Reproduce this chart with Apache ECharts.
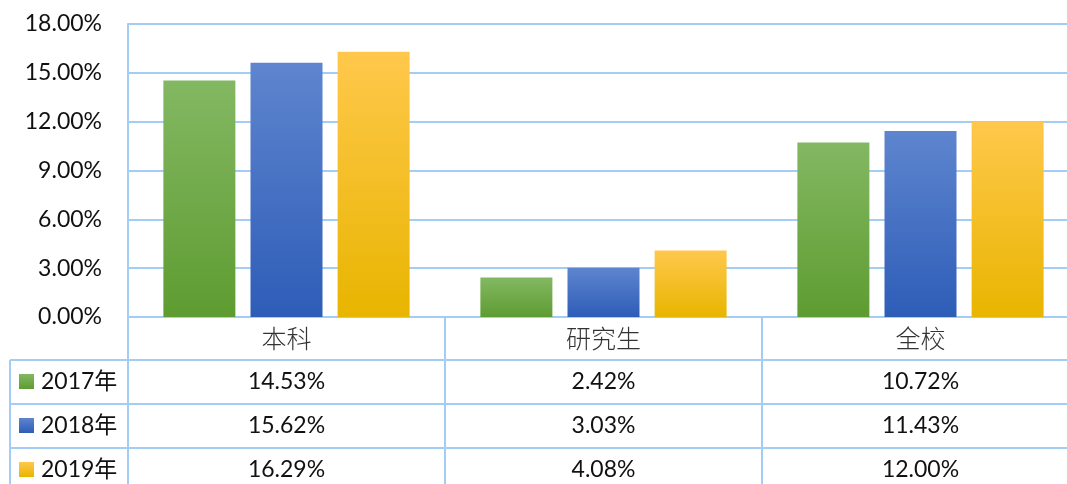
<!DOCTYPE html>
<html>
<head>
<meta charset="utf-8">
<script src="https://cdn.jsdelivr.net/npm/echarts@6/dist/echarts.min.js"></script>
<style>
  html, body { margin: 0; padding: 0; background: #fff; }
  #main { width: 1067px; height: 484px; }
</style>
</head>
<body>
<div id="main"></div>
<script>
const categories = ["本科", "研究生", "全校"];
const years = ["2017年", "2018年", "2019年"];
const rate2017 = [14.53, 2.42, 10.72];
const rate2018 = [15.62, 3.03, 11.43];
const rate2019 = [16.29, 4.08, 12.0];
const yMin = 0;
const yMax = 18;
const yStep = 3;

const lineColor = "#a3cdf4";
const numFont = "Lato";
const cjkFont = "Noto Sans CJK SC";

const grad = (top, bottom) =>
  new echarts.graphic.LinearGradient(0, 0, 0, 1, [
    { offset: 0, color: top },
    { offset: 1, color: bottom },
  ]);

const colors = [
  grad("#83b862", "#5e9c31"),
  grad("#5e85ce", "#2e5db8"),
  grad("#ffc84c", "#e8b500"),
];
const seriesData = [rate2017, rate2018, rate2019];

var chartDom = document.getElementById("main");
var myChart = echarts.init(chartDom);
var option;

option = {
  animation: false,
  grid: {
    left: 128,
    top: 24,
    width: 951,
    height: 293,
    outerBoundsMode: "none",
    containLabel: false,
  },
  xAxis: {
    type: "category",
    data: categories,
    axisTick: { show: false },
    axisLine: { lineStyle: { color: lineColor, width: 2 } },
    axisLabel: {
      margin: 9,
      fontSize: 25,
      color: "#333",
      fontFamily: cjkFont,
      fontWeight: 300,
    },
  },
  yAxis: {
    type: "value",
    min: yMin,
    max: yMax,
    interval: yStep,
    axisLine: { show: true, lineStyle: { color: lineColor, width: 2 } },
    splitLine: { lineStyle: { color: lineColor, width: 2 } },
    axisLabel: {
      margin: 26,
      fontSize: 23,
      color: "#111",
      fontFamily: numFont,
      formatter: (v) => v.toFixed(2) + "%",
    },
  },
  series: seriesData.map((data, i) => ({
    name: years[i],
    type: "bar",
    data: data,
    barWidth: 72,
    barGap: "21%",
    itemStyle: {
      color: colors[i],
      shadowBlur: 6,
      shadowColor: "rgba(0,0,0,0.35)",
      shadowOffsetX: 2,
      shadowOffsetY: 2,
    },
  })),
};

option && myChart.setOption(option);

// data table under the plot, placed from the axis scales
const c0 = myChart.convertToPixel({ xAxisIndex: 0 }, categories[0]);
const c1 = myChart.convertToPixel({ xAxisIndex: 0 }, categories[1]);
const band = c1 - c0;
const yZero = myChart.convertToPixel({ yAxisIndex: 0 }, yMin);
const W = 1067, H = 484;
const tableLeft = 10;
const labelRowH = 43;
const rowH = 44;

const graphics = [];
const line = (x1, y1, x2, y2) =>
  graphics.push({
    type: "line",
    shape: { x1, y1, x2, y2 },
    style: { stroke: lineColor, lineWidth: 2 },
    z: 10,
  });

// vertical column borders
for (let i = 0; i < categories.length; i++) {
  const xb = Math.round(c0 + (i - 0.5) * band);
  line(xb, yZero, xb, H);
}
line(tableLeft, yZero + labelRowH, tableLeft, H);

// horizontal row borders + rows
for (let r = 0; r < years.length; r++) {
  const top = yZero + labelRowH + r * rowH;
  line(tableLeft, top, W, top);
  const cy = top + rowH / 2;
  graphics.push({
    type: "rect",
    shape: { x: 19, y: cy - 8, width: 15, height: 15 },
    style: { fill: colors[r] },
    z: 10,
  });
  graphics.push({
    type: "text",
    x: 41,
    y: cy,
    style: {
      text: years[r],
      fontSize: 23,
      fontFamily: numFont + ", " + cjkFont,
      fill: "#111",
      verticalAlign: "middle",
    },
    z: 10,
  });
  for (let i = 0; i < categories.length; i++) {
    graphics.push({
      type: "text",
      x: c0 + i * band,
      y: cy,
      style: {
        text: seriesData[r][i].toFixed(2) + "%",
        fontSize: 23,
        fontFamily: numFont,
        fill: "#111",
        align: "center",
        verticalAlign: "middle",
      },
      z: 10,
    });
  }
}

myChart.setOption({ graphic: graphics });
</script>
</body>
</html>
